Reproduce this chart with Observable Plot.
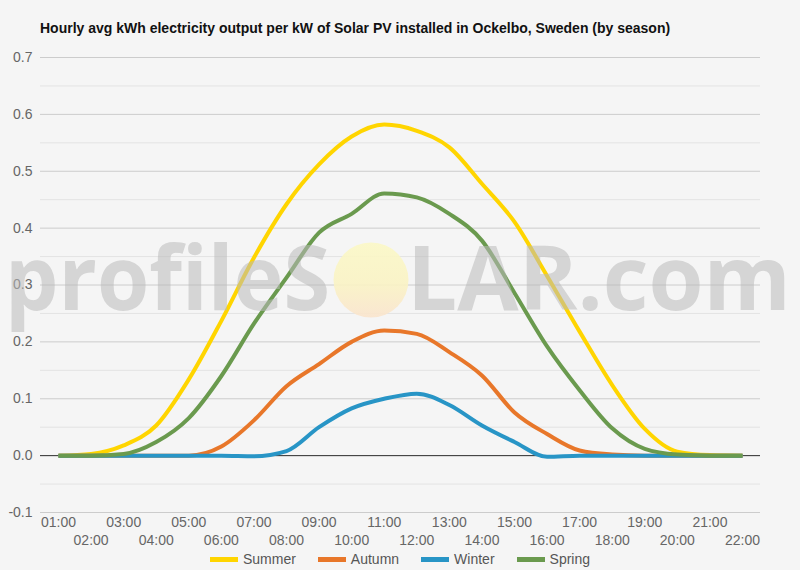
<!DOCTYPE html>
<html>
<head>
<meta charset="utf-8">
<script src="https://cdn.jsdelivr.net/npm/d3@7"></script>
<script src="https://cdn.jsdelivr.net/npm/@observablehq/plot@0.6"></script>
<style>
  html, body { margin: 0; padding: 0; background: #f5f5f5; }
  #wrap { position: relative; width: 800px; height: 570px; overflow: hidden; background: #f5f5f5; }
  #title { position: absolute; left: 40px; top: 19px; font: bold 14px "Liberation Sans", Arial, sans-serif; color: #111; line-height: 18px; white-space: nowrap; }
  #chart { position: absolute; left: 0; top: 45px; }
  #legend { position: absolute; left: 0; top: 550px; width: 800px; height: 18px; display: flex; justify-content: center; align-items: center; font: 14px "Liberation Sans", Arial, sans-serif; color: #555; }
  .item { display: flex; align-items: center; margin: 0 11px; }
  .sw { width: 28px; height: 5px; margin-right: 5px; }
  #wm { position: absolute; left: 0; top: 0; pointer-events: none; }
</style>
</head>
<body>
<div id="wrap">
  <div id="title"></div>
  <div id="chart"></div>
  <div id="legend"></div>
  <svg id="wm" width="800" height="570"></svg>
</div>
<script>
const titleText = "Hourly avg kWh electricity output per kW of Solar PV installed in Ockelbo, Sweden (by season)";
const hours = [1,2,3,4,5,6,7,8,9,10,11,12,13,14,15,16,17,18,19,20,21,22];
const summer = [0, 0.003, 0.018, 0.053, 0.134, 0.237, 0.348, 0.442, 0.512, 0.561, 0.582, 0.571, 0.542, 0.478, 0.411, 0.316, 0.218, 0.124, 0.047, 0.007, 0.001, 0];
const autumn = [0, 0, 0, 0, 0, 0.016, 0.062, 0.122, 0.161, 0.2, 0.22, 0.214, 0.182, 0.141, 0.076, 0.038, 0.009, 0.002, 0, 0, 0, 0];
const winter = [0, 0, 0, 0, 0, 0, -0.001, 0.008, 0.05, 0.083, 0.1, 0.109, 0.089, 0.053, 0.024, -0.002, 0, 0, 0, 0, 0, 0];
const spring = [0, 0, 0.003, 0.024, 0.066, 0.14, 0.232, 0.313, 0.392, 0.425, 0.461, 0.454, 0.425, 0.378, 0.286, 0.192, 0.115, 0.048, 0.012, 0.002, 0, 0];
const seasons = ["Summer", "Autumn", "Winter", "Spring"];
const colors = ["#FFD500", "#E8772A", "#2895C6", "#6A9A4E"];
const majorTicks = [-0.1, 0, 0.1, 0.2, 0.3, 0.4, 0.5, 0.6, 0.7];
const minorTicks = [-0.05, 0.05, 0.15, 0.25, 0.35, 0.45, 0.55, 0.65];
const oddHours = [1,3,5,7,9,11,13,15,17,19,21];
const evenHours = [2,4,6,8,10,12,14,16,18,20,22];

const series = [summer, autumn, winter, spring];
const rows = [];
seasons.forEach((s, i) => hours.forEach((h, j) => rows.push({season: s, hour: h, value: series[i][j]})));

const fmtHour = h => String(h).padStart(2, "0") + ":00";

document.getElementById("title").textContent = titleText;

const chart = Plot.plot({
  width: 800,
  height: 505,
  marginTop: 12,
  marginBottom: 38,
  marginLeft: 40,
  marginRight: 40,
  style: {background: "transparent", fontFamily: "'Liberation Sans', Arial, sans-serif", fontSize: "14px", color: "#666", overflow: "visible"},
  x: {domain: [0.447, 22.553]},
  y: {domain: [-0.1, 0.7]},
  color: {domain: seasons, range: colors},
  marks: [
    Plot.ruleY(minorTicks, {stroke: "#e3e3e3", strokeWidth: 1}),
    Plot.ruleY(majorTicks, {stroke: "#cccccc", strokeWidth: 1}),
    Plot.ruleY([0], {stroke: "#333", strokeWidth: 1}),
    Plot.axisY(majorTicks, {tickSize: 0, tickPadding: 8, tickFormat: d => d.toFixed(1), label: null, fontSize: 14}),
    Plot.axisX(oddHours, {tickSize: 0, tickPadding: 5, tickFormat: fmtHour, label: null, fontSize: 14}),
    Plot.axisX(evenHours, {tickSize: 0, tickPadding: 23, tickFormat: fmtHour, label: null, fontSize: 14}),
    Plot.line(rows, {x: "hour", y: "value", z: "season", stroke: "season", strokeWidth: 4, curve: "monotone-x", strokeLinecap: "butt"})
  ]
});
document.getElementById("chart").appendChild(chart);

const legend = d3.select("#legend");
seasons.forEach((s, i) => {
  const it = legend.append("div").attr("class", "item");
  it.append("div").attr("class", "sw").style("background", colors[i]);
  it.append("span").text(s);
});

// watermark
const wm = d3.select("#wm");
const defs = wm.append("defs");
const g = defs.append("linearGradient").attr("id", "sun").attr("x1", 0).attr("y1", 0).attr("x2", 0).attr("y2", 1);
g.append("stop").attr("offset", "0%").attr("stop-color", "#fbf8c6");
g.append("stop").attr("offset", "55%").attr("stop-color", "#faf3c4");
g.append("stop").attr("offset", "100%").attr("stop-color", "#fae4cd");
wm.append("circle").attr("cx", 371).attr("cy", 280).attr("r", 37.5).attr("fill", "url(#sun)").attr("opacity", 0.9);
wm.append("text").attr("x", 5).attr("y", 310).attr("textLength", 325).attr("lengthAdjust", "spacingAndGlyphs")
  .attr("font-family", "'Open Sans', sans-serif").attr("font-weight", "bold").attr("font-size", 90)
  .attr("fill", "rgb(185,185,185)").attr("fill-opacity", 0.55).text("profileS");
wm.append("text").attr("x", 407).attr("y", 310).attr("textLength", 384).attr("lengthAdjust", "spacingAndGlyphs")
  .attr("font-family", "'Open Sans', sans-serif").attr("font-weight", "bold").attr("font-size", 90)
  .attr("fill", "rgb(185,185,185)").attr("fill-opacity", 0.55).text("LAR.com");
</script>
</body>
</html>
